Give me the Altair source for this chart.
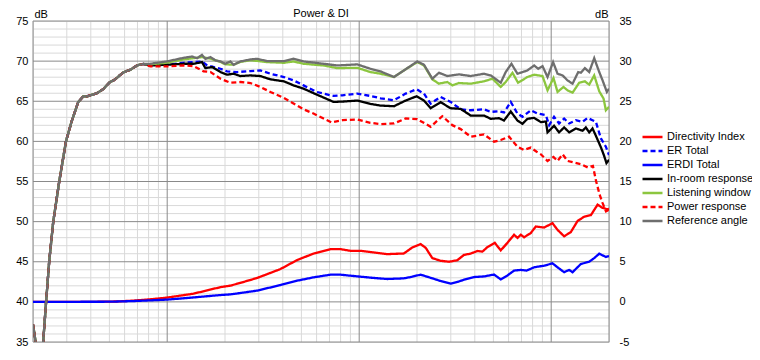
import altair as alt
import pandas as pd

TITLE = "Power & DI"
SERIES = ["Directivity Index", "ER Total", "ERDI Total", "In-room response",
          "Listening window", "Power response", "Reference angle"]
COLORS = ["#ff0000", "#0000ff", "#0000ff", "#000000", "#8cc63f", "#ff0000", "#6e6e6e"]
DASHES = [[1, 0], [5, 3], [1, 0], [1, 0], [1, 0], [5, 3], [1, 0]]

X_TICKS = [20, 50, 100, 200, 500, 1000, 2000, 5000, 10000, 20000]
X_LABELS = ["20Hz", "50", "100", "200", "500", "1k", "2k", "5k", "10k", "20k"]
Y_LEFT_TICKS = [35, 40, 45, 50, 55, 60, 65, 70, 75]
Y_RIGHT_TICKS = [-5, 0, 5, 10, 15, 20, 25, 30, 35]

GRID_X_MAJOR = [20, 100, 1000, 10000, 20000]
GRID_X_MINOR = [30, 40, 50, 60, 70, 80, 90, 200, 300, 400, 500, 600, 700, 800, 900,
                2000, 3000, 4000, 5000, 6000, 7000, 8000, 9000]
GRID_Y_MAJOR = [35, 40, 45, 50, 55, 60, 65, 70, 75]
GRID_Y_MINOR = [v for v in range(36, 75) if v % 5 != 0]

# shared low-frequency rise (all SPL curves coincide here)
RISE_F = [20, 20.7, 21.4, 22.0, 22.6, 23.4, 24.3, 25.5, 27.4, 29.7, 31.8, 34.4, 36.5, 38.1,
          40.5, 43, 46.4, 48.5, 50.4, 52.5, 54.7, 57, 59.2, 62, 64, 67, 69.5, 75]
RISE_DB = [37.2, 34.8, 31.5, 32.8, 35.0, 40.0, 45.1, 50.0, 55.0, 60.0, 62.5, 64.9, 65.6, 65.6,
           65.8, 66.0, 66.5, 67.0, 67.4, 67.6, 67.9, 68.3, 68.6, 68.8, 68.9, 69.2, 69.45, 69.65]

REF_F = [81.5, 99.4, 121.7, 134.6, 143.3, 151.8, 158.1, 168.2, 178.7, 189.5, 200.6, 213.3,
         221.6, 240.7, 271.4, 294.3, 331.4, 405, 455, 513, 652, 767, 977, 1143, 1292, 1517,
         1709, 2007, 2175, 2404, 2602, 2877, 3307, 3808, 4468, 4842, 5460, 5795, 6207, 6670,
         7520, 8150, 8550, 9010, 9570, 10230, 10790, 11460, 12160, 12920, 13830, 14270,
         14970, 15770, 16750, 17790, 18520, 19490, 20000]
REF_DB = [69.67, 69.96, 70.41, 70.57, 70.37, 70.78, 70.29, 70.5, 70.08, 69.96, 69.67, 69.96,
          69.55, 69.96, 70.21, 70.29, 70.0, 70.0, 70.29, 69.96, 69.67, 69.46, 69.59, 69.05,
          68.72, 68.02, 68.84, 69.96, 69.55, 67.81, 68.55, 68.14, 68.35, 68.14, 68.43, 68.22,
          67.31, 68.64, 69.67, 68.43, 68.84, 69.46, 69.05, 69.38, 68.02, 69.88, 68.43, 68.22,
          67.6, 67.19, 68.64, 68.55, 69.13, 68.64, 70.37, 68.64, 67.6, 66.16, 66.57]

LW_F = [81.5, 99.4, 121.7, 151.8, 168.2, 189.5, 200.6, 221.6, 240.7, 271.4, 331.4, 405, 455,
        513, 652, 767, 977, 1143, 1292, 1517, 1709, 2007, 2175, 2404, 2602, 2877, 3055, 3307,
        3808, 4468, 4943, 5460, 5795, 6285, 6720, 7520, 8150, 9010, 9570, 10280, 10790, 11590,
        12160, 12920, 13990, 14970, 15770, 16750, 17790, 18740, 19260, 20000]
LW_DB = [69.6, 69.8, 70.21, 70.5, 70.3, 69.9, 69.6, 69.55, 69.9, 70.12, 69.88, 69.79, 69.96,
         69.67, 69.46, 69.13, 69.17, 68.64, 68.43, 68.02, 68.84, 69.88, 69.46, 67.73, 67.19,
         67.4, 66.98, 67.27, 67.19, 67.48, 67.81, 66.78, 67.4, 68.55, 67.31, 68.02, 68.31,
         68.14, 66.36, 67.89, 66.16, 66.78, 66.36, 66.07, 67.31, 67.48, 67.07, 68.22, 66.24,
         65.33, 63.88, 64.3]

IN_F = [81.5, 99.4, 121.7, 137.1, 151.8, 158.1, 171.7, 189.5, 204.8, 221.6, 240.7, 271.4,
        305.6, 345, 405, 455, 513, 601, 735, 818, 977, 1143, 1292, 1517, 1744, 1990, 2175,
        2355, 2655, 2993, 3375, 3808, 4468, 4842, 5347, 5677, 6156, 6670, 7082, 7520, 8150,
        8830, 9380, 9570, 10350, 10990, 11680, 12410, 13440, 14560, 15150, 15770, 16410,
        17090, 18150, 18800, 19400, 20000]
IN_DB = [69.46, 69.55, 69.67, 69.67, 69.88, 69.13, 69.26, 68.64, 68.31, 68.43, 68.14, 68.22,
         68.14, 67.73, 67.48, 66.98, 66.57, 65.83, 64.92, 64.96, 65.08, 64.67, 64.46, 64.38,
         65.08, 65.62, 65.08, 64.13, 64.88, 64.13, 64.05, 63.22, 63.22, 62.81, 62.89, 62.6,
         63.72, 62.6, 62.19, 62.81, 62.93, 62.4, 62.48, 61.12, 61.94, 61.12, 61.74, 61.12,
         61.61, 61.32, 61.74, 61.12, 61.61, 60.7, 59.26, 58.3, 57.3, 57.7]

ER_F = [81.5, 99.4, 121.7, 151.8, 161.4, 189.5, 204.8, 231.3, 271.4, 305.6, 345, 405, 455,
        513, 601, 735, 818, 977, 1143, 1292, 1517, 1744, 1990, 2175, 2355, 2655, 2993, 3375,
        3808, 4468, 4842, 5347, 5677, 6156, 6670, 7082, 7830, 8490, 9380, 9760, 10350, 10990,
        11680, 12410, 13440, 14560, 15460, 16410, 17090, 18150, 19260, 20000]
ER_DB = [69.46, 69.55, 69.79, 69.96, 69.46, 69.05, 68.72, 68.64, 68.76, 68.84, 68.43, 68.02,
         67.6, 66.98, 66.16, 65.66, 65.74, 65.95, 65.66, 65.37, 65.12, 65.95, 66.49, 65.95,
         64.71, 65.54, 64.92, 64.0, 63.88, 64.0, 63.67, 63.76, 63.6, 64.92, 63.47, 63.06,
         63.88, 63.47, 63.26, 62.02, 63.06, 62.23, 62.85, 62.23, 62.64, 62.43, 62.93, 62.64,
         62.43, 60.37, 59.34, 58.3]

PW_F = [81.5, 99.4, 121.7, 137.1, 154.9, 168.2, 189.5, 213.3, 240.7, 271.4, 305.6, 345, 405,
        455, 513, 578, 652, 719, 818, 977, 1143, 1292, 1517, 1744, 2007, 2355, 2710, 3055,
        3375, 3808, 4468, 5035, 5460, 6034, 6670, 7220, 7830, 8400, 8830, 9570, 10280, 10790,
        11470, 12170, 13200, 14320, 15540, 16490, 17150, 17880, 18530, 19290, 20000]
PW_DB = [69.34, 69.34, 69.46, 69.38, 68.72, 68.64, 67.81, 67.31, 67.4, 67.27, 66.78, 66.16,
         65.41, 64.71, 64.0, 63.47, 62.85, 62.36, 62.64, 62.73, 62.31, 62.15, 62.23, 62.85,
         62.77, 61.82, 63.14, 62.02, 61.53, 60.58, 60.87, 59.96, 60.17, 60.58, 59.34, 58.93,
         59.22, 58.7, 58.39, 57.56, 58.06, 57.56, 58.39, 57.56, 57.35, 57.15, 56.74, 56.94,
         55.0, 53.35, 52.31, 51.27, 51.5]

DI_F = [20, 40, 55, 66.7, 80, 99.7, 137, 189, 213, 240, 294, 389, 475, 580, 709, 799, 901,
        1016, 1192, 1400, 1709, 1890, 2088, 2218, 2404, 2656, 2934, 3246, 3514, 3808, 4128,
        4382, 4654, 5081, 5461, 5918, 6406, 6672, 6942, 7224, 7828, 8312, 9184, 10158, 10786,
        11678, 12656, 13720, 14850, 16094, 17440, 18520, 19666, 20000]
DI_V = [0, 0, 0.05, 0.16, 0.3, 0.53, 1.02, 1.83, 2.02, 2.36, 2.98, 4.09, 5.21, 6.03, 6.57,
        6.57, 6.36, 6.36, 6.16, 5.95, 6.03, 6.78, 7.2, 6.75, 5.45, 5.12, 5.0, 5.2, 5.85, 6.02,
        6.34, 6.26, 6.83, 7.36, 6.42, 7.36, 8.37, 7.97, 8.37, 8.05, 8.58, 9.39, 9.27, 9.8,
        8.98, 8.17, 8.7, 10.08, 10.61, 10.81, 12.11, 11.71, 11.54, 11.6]

ERDI_F = [20, 50, 66.7, 80, 99.7, 137, 189, 213, 240, 294, 389, 475, 580, 709, 799, 901, 1016,
          1192, 1400, 1709, 1890, 2088, 2355, 2656, 2993, 3246, 3514, 3960, 4470, 5035, 5461,
          5918, 6406, 6942, 7450, 8150, 9184, 10158, 10786, 11678, 12400, 12916, 14274, 15768,
          16744, 17780, 19268, 20000]
ERDI_V = [0, 0.02, 0.1, 0.18, 0.28, 0.55, 0.85, 0.93, 1.1, 1.4, 2.1, 2.64, 3.06, 3.39, 3.39,
          3.26, 3.14, 2.98, 2.85, 2.93, 3.14, 3.39, 3.0, 2.6, 2.28, 2.48, 2.76, 3.09, 3.17,
          3.41, 2.8, 3.29, 3.9, 3.98, 3.9, 4.31, 4.51, 4.8, 4.31, 3.7, 3.98, 3.7, 4.72, 5.0,
          5.45, 6.0, 5.6, 5.7]

FONT = "Liberation Sans"

spl_rows = []
for name, fs, vs in [("ER Total", ER_F, ER_DB), ("In-room response", IN_F, IN_DB),
                     ("Listening window", LW_F, LW_DB), ("Power response", PW_F, PW_DB),
                     ("Reference angle", REF_F, REF_DB)]:
    assert len(fs) == len(vs), name
    for f, v in zip(RISE_F + fs, RISE_DB + vs):
        spl_rows.append({"series": name, "f": f, "db": v})
spl_df = pd.DataFrame(spl_rows)

di_rows = []
for name, fs, vs in [("Directivity Index", DI_F, DI_V), ("ERDI Total", ERDI_F, ERDI_V)]:
    assert len(fs) == len(vs), name
    for f, v in zip(fs, vs):
        di_rows.append({"series": name, "f": f, "di": v})
di_df = pd.DataFrame(di_rows)


def label_expr(values, labels):
    expr = "''"
    for v, l in reversed(list(zip(values, labels))):
        expr = f"datum.value == {v} ? '{l}' : ({expr})"
    return expr


XSCALE = alt.Scale(type="log", domain=[20, 20000], nice=False)
YLEFT = alt.Scale(domain=[35, 75], nice=False, zero=False)
YRIGHT = alt.Scale(domain=[-5, 35], nice=False, zero=False)

legend = alt.Legend(orient="none", legendX=608, legendY=109, title=None,
                    symbolType="stroke", symbolSize=400, symbolStrokeWidth=2.5,
                    labelFontSize=11, labelFont=FONT, labelColor="#000000",
                    labelOffset=3, clipHeight=14, rowPadding=0, padding=0,
                    symbolOpacity=1)
color = alt.Color("series:N", scale=alt.Scale(domain=SERIES, range=COLORS), legend=legend)
dash = alt.StrokeDash("series:N", scale=alt.Scale(domain=SERIES, range=DASHES), legend=legend)

x_axis = alt.Axis(values=X_TICKS, labelExpr=label_expr(X_TICKS, X_LABELS), grid=False,
                  domain=False, ticks=False, title=None, labelFlush=False, labelPadding=2,
                  labelFontSize=11, labelFont=FONT, labelColor="#000000", labelOverlap=False)

y_left_axis = alt.Axis(values=Y_LEFT_TICKS, grid=False, domain=False, ticks=False,
                       title="dB", titleAngle=0, titleX=1, titleY=-4, titleAlign="left",
                       titleBaseline="alphabetic", titleFontWeight="normal", titleFontSize=11,
                       titleFont=FONT, labelPadding=5, labelFontSize=11, labelFont=FONT,
                       labelColor="#000000", labelOverlap=False)
y_right_axis = alt.Axis(orient="right", values=Y_RIGHT_TICKS, grid=False, domain=False,
                        ticks=False, title="dB", titleAngle=0, titleX=-1, titleY=-4,
                        titleAlign="right", titleBaseline="alphabetic", titleFontWeight="normal",
                        titleFontSize=11, titleFont=FONT, labelPadding=10, labelFontSize=11,
                        labelFont=FONT, labelColor="#000000", labelOverlap=False,
                        labelExpr="'' + datum.value")

MINOR_C = "#d9d9d9"
MAJOR_C = "#8a8a8a"

gx_minor = alt.Chart(pd.DataFrame({"f": GRID_X_MINOR})).mark_rule(
    color=MINOR_C, strokeWidth=1).encode(x=alt.X("f:Q", scale=XSCALE, axis=None))
gy_minor = alt.Chart(pd.DataFrame({"db": GRID_Y_MINOR})).mark_rule(
    color=MINOR_C, strokeWidth=1).encode(y=alt.Y("db:Q", scale=YLEFT, axis=None))
gx_major = alt.Chart(pd.DataFrame({"f": GRID_X_MAJOR})).mark_rule(
    color=MAJOR_C, strokeWidth=1).encode(x=alt.X("f:Q", scale=XSCALE, axis=None))
gy_major = alt.Chart(pd.DataFrame({"db": GRID_Y_MAJOR})).mark_rule(
    color=MAJOR_C, strokeWidth=1).encode(y=alt.Y("db:Q", scale=YLEFT, axis=None))

di_lines = alt.Chart(di_df).mark_line(strokeWidth=2.3, clip=True).encode(
    x=alt.X("f:Q", scale=XSCALE, axis=None),
    y=alt.Y("di:Q", scale=YRIGHT, axis=y_right_axis),
    color=color, strokeDash=dash, order=alt.Order("f:Q"))

spl_lines = alt.Chart(spl_df).mark_line(strokeWidth=2.3, clip=True).encode(
    x=alt.X("f:Q", scale=XSCALE, axis=x_axis),
    y=alt.Y("db:Q", scale=YLEFT, axis=y_left_axis),
    color=color, strokeDash=dash, order=alt.Order("f:Q"))

title_txt = alt.Chart(pd.DataFrame({"t": [TITLE]})).mark_text(
    fontSize=11, font=FONT, baseline="alphabetic", align="center", color="#000000").encode(
    text="t:N", x=alt.value(288), y=alt.value(-4))

chart = alt.layer(gx_minor, gy_minor, gx_major, gy_major, di_lines, spl_lines, title_txt
                  ).resolve_scale(y="independent").properties(
    width=576, height=321,
    padding={"left": 25, "top": 13, "right": 143, "bottom": 14},
    autosize=alt.AutoSizeParams(type="none"),
    background="#ffffff",
).configure_view(stroke=None).configure(font=FONT)

chart.save("out.html", embed_options={"renderer": "svg", "actions": False})
